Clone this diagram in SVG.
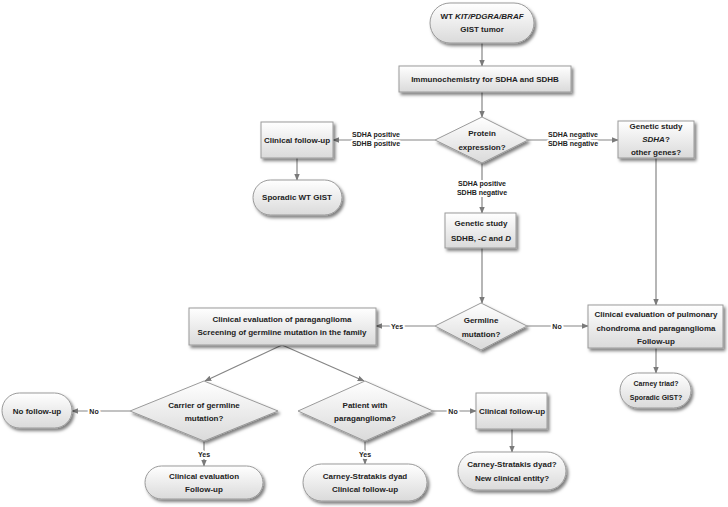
<svg xmlns="http://www.w3.org/2000/svg" width="728" height="507" viewBox="0 0 728 507">
<style>
.n{fill:url(#g);stroke:#9a9a9a;stroke-width:1;filter:url(#sh)}
.t{font-family:"Liberation Sans",Arial,sans-serif;font-weight:bold;font-size:8px;fill:#222;text-anchor:middle}
.s{font-size:7px}
.c{stroke:#858585;stroke-width:1.2;fill:none}
.a{marker-end:url(#ar)}
.l{font-family:"Liberation Sans",Arial,sans-serif;font-weight:bold;font-size:7px;fill:#222;text-anchor:middle;paint-order:stroke;stroke:#fff;stroke-width:4px;stroke-linejoin:round}
</style>
<defs>
<linearGradient id="g" x1="0" y1="0" x2="0" y2="1">
<stop offset="0" stop-color="#ffffff"/>
<stop offset="1" stop-color="#dadada"/>
</linearGradient>
<filter id="sh" x="-20%" y="-20%" width="150%" height="160%">
<feDropShadow dx="2" dy="2.5" stdDeviation="1.5" flood-color="#000" flood-opacity="0.5"/>
</filter>
<marker id="ar" viewBox="0 0 10 10" refX="9" refY="5" markerWidth="7" markerHeight="7" orient="auto" markerUnits="userSpaceOnUse">
<path d="M0,1 L10,5 L0,9 z" fill="#7a7a7a"/>
</marker>
</defs>
<rect width="728" height="507" fill="#fff"/>
<g id="connectors">
<path class="c a" d="M482,43 V66"/>
<path class="c a" d="M482,92 V117"/>
<path class="c a" d="M435,140 H333"/>
<path class="c a" d="M297,158 V180"/>
<path class="c a" d="M528,140 H618"/>
<path class="c a" d="M482,163 V213"/>
<path class="c a" d="M482,248 V303"/>
<path class="c a" d="M435,326 H376"/>
<path class="c a" d="M527,326 H588"/>
<path class="c a" d="M656,158 V305"/>
<path class="c a" d="M656,348 V373"/>
<path class="c a" d="M282,345 L205,381"/>
<path class="c a" d="M282,345 L364,381"/>
<path class="c a" d="M130,411 H72"/>
<path class="c a" d="M204,441 V466"/>
<path class="c a" d="M365,441 V464"/>
<path class="c a" d="M433,411 H476"/>
<path class="c a" d="M512,429 V452"/>
<text class="l" x="376" y="137">SDHA positive</text>
<text class="l" x="376" y="146">SDHB positive</text>
<text class="l" x="573" y="137">SDHA negative</text>
<text class="l" x="573" y="146">SDHB negative</text>
<text class="l" x="482" y="186">SDHA positive</text>
<text class="l" x="482" y="195">SDHB negative</text>
<text class="l" x="397" y="329">Yes</text>
<text class="l" x="557" y="329">No</text>
<text class="l" x="94" y="414">No</text>
<text class="l" x="204" y="457">Yes</text>
<text class="l" x="365" y="457">Yes</text>
<text class="l" x="453" y="414">No</text>
</g>
<g id="start">
<rect class="n" x="430" y="3" width="104" height="40" rx="20"/>
<text class="t" x="482" y="19">WT <tspan font-style="italic">KIT/PDGRA/BRAF</tspan></text>
<text class="t" x="482" y="32">GIST tumor</text>
</g>
<g id="immuno">
<rect class="n" x="399" y="66" width="172" height="26"/>
<text class="t" x="485" y="82">Immunochemistry for SDHA and SDHB</text>
</g>
<g id="protein">
<polygon class="n" points="482,117 528,140 482,163 435,140"/>
<text class="t" x="482" y="136">Protein</text>
<text class="t" x="482" y="150">expression?</text>
</g>
<g id="followup1">
<rect class="n" x="261" y="122" width="72" height="36"/>
<text class="t" x="297" y="143">Clinical follow-up</text>
</g>
<g id="sporadic">
<rect class="n" x="253" y="180" width="89" height="35" rx="17.5"/>
<text class="t" x="297" y="200">Sporadic WT GIST</text>
</g>
<g id="geneticA">
<rect class="n" x="618" y="121" width="76" height="37"/>
<text class="t" x="656" y="129">Genetic study</text>
<text class="t" x="656" y="142"><tspan font-style="italic">SDHA</tspan>?</text>
<text class="t" x="656" y="155">other genes?</text>
</g>
<g id="geneticB">
<rect class="n" x="445" y="213" width="71" height="35"/>
<text class="t" x="481" y="226">Genetic study</text>
<text class="t" x="481" y="241">SDHB, <tspan font-style="italic">-C</tspan> and <tspan font-style="italic">D</tspan></text>
</g>
<g id="germline">
<polygon class="n" points="481,303 527,326 481,350 435,326"/>
<text class="t" x="481" y="323">Germline</text>
<text class="t" x="481" y="337">mutation?</text>
</g>
<g id="paraganglioma">
<rect class="n" x="189" y="308" width="187" height="37"/>
<text class="t" x="282" y="322">Clinical evaluation of paraganglioma</text>
<text class="t" x="282" y="335">Screening of germline mutation in the family</text>
</g>
<g id="pulmonary">
<rect class="n" x="588" y="305" width="135" height="43"/>
<text class="t" x="656" y="317">Clinical evaluation of pulmonary</text>
<text class="t" x="656" y="331">chondroma and paraganglioma</text>
<text class="t" x="656" y="344">Follow-up</text>
</g>
<g id="carney">
<rect class="n" x="620" y="373" width="71" height="35" rx="17.5"/>
<text class="t s" x="656" y="386">Carney triad?</text>
<text class="t s" x="656" y="400">Sporadic GIST?</text>
</g>
<g id="carrier">
<polygon class="n" points="204,381 278,411 204,441 130,411"/>
<text class="t" x="204" y="408">Carrier of germline</text>
<text class="t" x="204" y="421">mutation?</text>
</g>
<g id="nofollow">
<rect class="n" x="2" y="393" width="70" height="35" rx="17.5"/>
<text class="t" x="37" y="414">No follow-up</text>
</g>
<g id="clinevalfollow">
<rect class="n" x="145" y="466" width="118" height="33" rx="16.5"/>
<text class="t" x="204" y="479">Clinical evaluation</text>
<text class="t" x="204" y="492">Follow-up</text>
</g>
<g id="patient">
<polygon class="n" points="365,381 433,411 365,441 298,411"/>
<text class="t" x="365" y="408">Patient with</text>
<text class="t" x="365" y="421">paraganglioma?</text>
</g>
<g id="dyad">
<rect class="n" x="303" y="464" width="124" height="37" rx="18.5"/>
<text class="t" x="365" y="479">Carney-Stratakis dyad</text>
<text class="t" x="365" y="492">Clinical follow-up</text>
</g>
<g id="followup2">
<rect class="n" x="476" y="393" width="71" height="36"/>
<text class="t" x="512" y="414">Clinical follow-up</text>
</g>
<g id="dyad2">
<rect class="n" x="458" y="452" width="108" height="38" rx="19"/>
<text class="t" x="512" y="467">Carney-Stratakis dyad?</text>
<text class="t" x="512" y="481">New clinical entity?</text>
</g>
</svg>
